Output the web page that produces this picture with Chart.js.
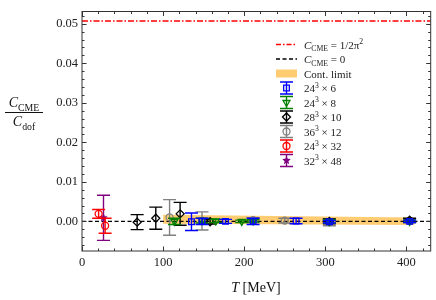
<!DOCTYPE html>
<html>
<head>
<meta charset="utf-8">
<script src="https://cdn.jsdelivr.net/npm/chart.js@4.4.1/dist/chart.umd.min.js"></script>
<style>
  html, body { margin: 0; padding: 0; background: #fff; }
  canvas { display: block; }
</style>
</head>
<body>
<canvas id="chart" width="436" height="300"></canvas>
<script>
// values
const xTicks = [0, 100, 200, 300, 400];
const yTicks = [0.00, 0.01, 0.02, 0.03, 0.04, 0.05];

const t6 = [135, 148, 177, 211, 264, 305, 404];
const c6 = [-0.0001, 0.0000, 0.0000, 0.0000, 0.0001, -0.0001, 0.0000];
const e6 = [0.0022, 0.0008, 0.0005, 0.0008, 0.0007, 0.0003, 0.0003];

const t8 = [114, 148, 165, 197, 211, 305, 404];
const c8 = [0.0000, 0.0002, 0.0001, 0.0000, 0.0001, 0.0000, 0.0000];
const e8 = [0.0008, 0.0006, 0.0004, 0.0003, 0.0003, 0.0004, 0.0003];

const t10 = [68, 91, 121, 158, 305, 404];
const c10 = [-0.0002, 0.0008, 0.0019, -0.0001, 0.0000, 0.0003];
const e10 = [0.0019, 0.0028, 0.0029, 0.0006, 0.0006, 0.0005];

const t12 = [108, 148, 211, 250, 305, 404];
const c12 = [0.0010, 0.0001, 0.0003, 0.0002, -0.0002, 0.0001];
const e12 = [0.0045, 0.0023, 0.0006, 0.0006, 0.0009, 0.0004];

const t32 = [20.5, 28.5];
const c32 = [0.0019, -0.0011];
const e32 = [0.0011, 0.0019];

const t48 = [26.5];
const c48 = [0.0009];
const e48 = [0.0057];

const bandT = [100, 410];
const bandHi = [0.0017, 0.0010];
const bandLo = [-0.0006, -0.0009];

const refT = [0, 430];
const cmeValue = 0.0507;

const SERIF = '"Liberation Serif", "DejaVu Serif", serif';

function pts(t, c) {
  return t.map((x, i) => ({ x: x, y: c[i] }));
}

// filled star marker for 32^3 x 48
function starImage(color, r) {
  const cv = document.createElement('canvas');
  const s = Math.ceil(r * 2 + 2);
  cv.width = s; cv.height = s;
  const g = cv.getContext('2d');
  g.fillStyle = color;
  g.beginPath();
  for (let i = 0; i < 10; i++) {
    const rr = i % 2 === 0 ? r : r * 0.45;
    const a = -Math.PI / 2 + i * Math.PI / 5;
    const px = s / 2 + rr * Math.cos(a);
    const py = s / 2 + rr * Math.sin(a);
    if (i === 0) g.moveTo(px, py); else g.lineTo(px, py);
  }
  g.closePath();
  g.fill();
  return cv;
}
const star = starImage('#800080', 4.5);

function series(label, t, c, e, color, style, extra) {
  return Object.assign({
    type: 'scatter',
    label: label,
    data: pts(t, c),
    err: e,
    borderColor: color,
    backgroundColor: 'rgba(0,0,0,0)',
    pointStyle: style,
    pointRadius: 3.5,
    pointBorderWidth: 1.3,
    order: 1
  }, extra || {});
}

const datasets = [
  {
    type: 'line', label: 'bandLo', data: pts(bandT, bandLo),
    borderWidth: 0, pointRadius: 0, fill: false, order: 20
  },
  {
    type: 'line', label: 'band', data: pts(bandT, bandHi),
    borderWidth: 0, pointRadius: 0, fill: '-1',
    backgroundColor: 'rgba(255,170,20,0.6)', order: 19
  },
  {
    type: 'line', label: 'cme', data: pts(refT, refT.map(() => cmeValue)),
    borderColor: '#ff0000', borderWidth: 1.3, borderDash: [6, 2, 1.5, 2],
    pointRadius: 0, fill: false, order: 18
  },
  {
    type: 'line', label: 'zero', data: pts(refT, refT.map(() => 0)),
    borderColor: '#000', borderWidth: 1.3, borderDash: [4, 2.5],
    pointRadius: 0, fill: false, order: 17
  },
  series('24^3 x 6', t6, c6, e6, '#0000ff', 'rect', { pointRadius: 4 }),
  series('24^3 x 8', t8, c8, e8, '#008000', 'triangle', { rotation: 180, pointRadius: 4 }),
  series('28^3 x 10', t10, c10, e10, '#000000', 'rectRot', { pointRadius: 4 }),
  series('36^3 x 12', t12, c12, e12, '#808080', 'circle'),
  series('24^3 x 32', t32, c32, e32, '#ff0000', 'circle'),
  series('32^3 x 48', t48, c48, e48, '#800080', star)
];

const errorBars = {
  id: 'errorBars',
  beforeDatasetDraw(chart, args) {
    const ds = chart.data.datasets[args.index];
    if (!ds.err) return;
    const ctx = chart.ctx;
    const xs = chart.scales.x, ys = chart.scales.y;
    ctx.save();
    ctx.strokeStyle = ds.borderColor;
    ctx.lineWidth = 1.4;
    ds.data.forEach((p, i) => {
      const px = xs.getPixelForValue(p.x);
      const y1 = ys.getPixelForValue(p.y + ds.err[i]);
      const y2 = ys.getPixelForValue(p.y - ds.err[i]);
      ctx.beginPath();
      ctx.moveTo(px, y1); ctx.lineTo(px, y2);
      ctx.moveTo(px - 6.5, y1); ctx.lineTo(px + 6.5, y1);
      ctx.moveTo(px - 6.5, y2); ctx.lineTo(px + 6.5, y2);
      ctx.stroke();
    });
    ctx.restore();
  }
};

// text with sub/superscripts: parts = [[text, style]] style: 'i' italic, 'r' roman, 'sub', 'sup'
function richText(ctx, parts, x, y, size, align) {
  const fontFor = (st) => {
    if (st === 'i') return 'italic ' + size + 'px ' + SERIF;
    if (st === 'sub' || st === 'sup') return (size * 0.7) + 'px ' + SERIF;
    return size + 'px ' + SERIF;
  };
  let w = 0;
  parts.forEach(([s, st]) => { ctx.font = fontFor(st); w += ctx.measureText(s).width; });
  let cx = align === 'center' ? x - w / 2 : x;
  parts.forEach(([s, st]) => {
    ctx.font = fontFor(st);
    let dy = 0;
    if (st === 'sub') dy = size * 0.25;
    if (st === 'sup') dy = -size * 0.38;
    ctx.fillText(s, cx, y + dy);
    cx += ctx.measureText(s).width;
  });
  return w;
}

const frame = {
  id: 'frame',
  afterDraw(chart) {
    const ctx = chart.ctx;
    const a = chart.chartArea;
    const xs = chart.scales.x, ys = chart.scales.y;
    ctx.save();
    ctx.strokeStyle = '#333';
    ctx.lineWidth = 1;
    ctx.strokeRect(a.left, a.top, a.right - a.left, a.bottom - a.top);
    ctx.beginPath();
    for (let v = 0; v <= 430; v += 20) {
      const px = Math.round(xs.getPixelForValue(v)) + 0.5;
      const len = v % 100 === 0 ? 4.5 : 2.5;
      ctx.moveTo(px, a.bottom); ctx.lineTo(px, a.bottom - len);
      ctx.moveTo(px, a.top); ctx.lineTo(px, a.top + len);
    }
    for (let k = -3; k <= 26; k++) {
      const v = k * 0.002;
      const py = Math.round(ys.getPixelForValue(v)) + 0.5;
      const len = k % 5 === 0 ? 4.5 : 2.5;
      ctx.moveTo(a.left, py); ctx.lineTo(a.left + len, py);
      ctx.moveTo(a.right, py); ctx.lineTo(a.right - len, py);
    }
    ctx.stroke();

    ctx.fillStyle = '#111';
    ctx.textBaseline = 'alphabetic';
    // x title
    richText(ctx, [['T', 'i'], [' [MeV]', 'r']], 256, 292, 14, 'center');
    // y title as fraction
    richText(ctx, [['C', 'i'], ['CME', 'sub']], 24, 107, 14, 'center');
    ctx.fillRect(5, 112, 38, 1);
    richText(ctx, [['C', 'i'], ['dof', 'sub']], 24, 126, 14, 'center');

    // legend
    const lx = 276, tx = 304, y0 = 44.5, dy = 14.5;
    ctx.lineWidth = 1.3;
    ctx.strokeStyle = '#ff0000';
    ctx.setLineDash([5, 2, 1.5, 2]);
    ctx.beginPath(); ctx.moveTo(lx, y0); ctx.lineTo(lx + 21, y0); ctx.stroke();
    ctx.strokeStyle = '#000';
    ctx.setLineDash([4, 2.5]);
    ctx.beginPath(); ctx.moveTo(lx, y0 + dy); ctx.lineTo(lx + 21, y0 + dy); ctx.stroke();
    ctx.setLineDash([]);
    ctx.fillStyle = 'rgba(255,170,20,0.6)';
    ctx.fillRect(lx, y0 + 2 * dy - 4, 21, 8);

    const labels = [
      [['C', 'i'], ['CME', 'sub'], [' = 1/2\u03c0', 'r'], ['2', 'sup']],
      [['C', 'i'], ['CME', 'sub'], [' = 0', 'r']],
      [['Cont. limit', 'r']]
    ];
    const sets = chart.data.datasets.filter(d => d.err);
    sets.forEach((d) => {
      const m = d.label.match(/(\d+)\^3 x (\d+)/);
      labels.push([[m[1], 'r'], ['3', 'sup'], [' \u00d7 ' + m[2], 'r']]);
    });
    ctx.fillStyle = '#222';
    labels.forEach((p, i) => richText(ctx, p, tx, y0 + i * dy + 4, 11, 'left'));

    sets.forEach((d, i) => {
      const cy = y0 + (i + 3) * dy;
      const cx = lx + 10.5;
      ctx.strokeStyle = d.borderColor;
      ctx.lineWidth = 1.4;
      ctx.beginPath();
      ctx.moveTo(cx, cy - 6); ctx.lineTo(cx, cy + 6);
      ctx.moveTo(cx - 6.5, cy - 6); ctx.lineTo(cx + 6.5, cy - 6);
      ctx.moveTo(cx - 6.5, cy + 6); ctx.lineTo(cx + 6.5, cy + 6);
      ctx.stroke();
      ctx.fillStyle = 'rgba(0,0,0,0)';
      ctx.lineWidth = d.pointBorderWidth;
      Chart.helpers.drawPoint(ctx, {
        pointStyle: d.pointStyle, radius: d.pointRadius, rotation: d.rotation || 0,
        borderWidth: d.pointBorderWidth
      }, cx, cy);
    });
    ctx.restore();
  }
};

new Chart(document.getElementById('chart'), {
  data: { datasets: datasets },
  plugins: [errorBars, frame],
  options: {
    responsive: false,
    animation: false,
    devicePixelRatio: 1,
    layout: { padding: { left: 0, right: 5, top: 5, bottom: 0 } },
    plugins: { legend: { display: false }, tooltip: { enabled: false } },
    scales: {
      x: {
        type: 'linear', min: 0, max: 430,
        grid: { display: false, drawTicks: false },
        border: { display: false },
        afterBuildTicks: (s) => { s.ticks = xTicks.map(v => ({ value: v })); },
        afterFit: (s) => { s.height = 49; },
        ticks: { color: '#222', padding: 4, maxRotation: 0, font: { family: SERIF, size: 12.5 } }
      },
      y: {
        type: 'linear', min: -0.0075, max: 0.0531,
        grid: { display: false, drawTicks: false },
        border: { display: false },
        afterBuildTicks: (s) => { s.ticks = yTicks.map(v => ({ value: v })); },
        afterFit: (s) => { s.width = 82; },
        ticks: {
          color: '#222', padding: 4, font: { family: SERIF, size: 12.5 },
          callback: (v) => v.toFixed(2)
        }
      }
    }
  }
});
</script>
</body>
</html>
